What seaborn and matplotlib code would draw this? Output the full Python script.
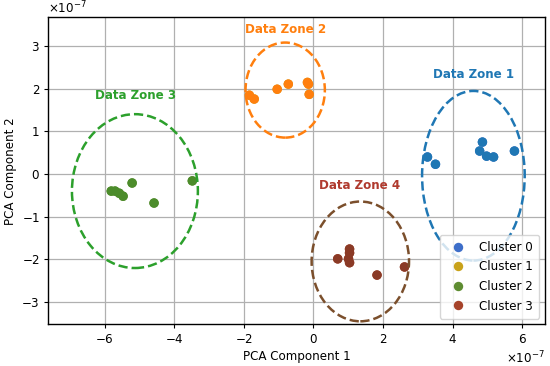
import pandas as pd
import matplotlib.pyplot as plt
import seaborn as sns
from matplotlib.patches import Ellipse

# PCA coordinates (in units of 1e-7)
c0_x = [3.28, 3.51, 4.86, 4.78, 4.98, 5.18, 5.78]
c0_y = [0.40, 0.23, 0.75, 0.54, 0.42, 0.40, 0.54]
c1_x = [-1.84, -1.70, -1.04, -0.72, -0.17, -0.14, -0.12]
c1_y = [1.85, 1.76, 1.99, 2.11, 2.15, 2.11, 1.87]
c2_x = [-5.81, -5.70, -5.58, -5.47, -5.21, -4.58, -3.48]
c2_y = [-0.40, -0.40, -0.45, -0.52, -0.21, -0.68, -0.16]
c3_x = [1.04, 1.04, 1.04, 0.70, 1.01, 1.83, 2.62]
c3_y = [-1.76, -1.85, -2.08, -1.99, -1.99, -2.37, -2.18]

clusters = ["Cluster 0", "Cluster 1", "Cluster 2", "Cluster 3"]

# zone ellipses (units of 1e-7)
zone_names = ["Data Zone 1", "Data Zone 2", "Data Zone 3", "Data Zone 4"]
zone_cx = [4.60, -0.81, -5.13, 1.35]
zone_cy = [-0.04, 1.97, -0.40, -2.05]
zone_w = [2.95, 2.28, 3.62, 2.80]
zone_h = [3.98, 2.23, 3.61, 2.81]
label_x = [4.61, -0.81, -5.12, 1.33]
label_y = [2.34, 3.39, 1.85, -0.27]

legend_colors = ["#3d6ec9", "#c9a21a", "#5e8c31", "#a6432a"]
point_colors = ["#1f77b4", "#ff7f0e", "#4c8c2b", "#8a3a26"]
zone_colors = ["#1f77b4", "#ff7f0e", "#2ca02c", "#7b4f2c"]
label_colors = ["#1f77b4", "#ff7f0e", "#2ca02c", "#b03a2e"]

scale = 1e-7
xs = [c0_x, c1_x, c2_x, c3_x]
ys = [c0_y, c1_y, c2_y, c3_y]
rows = []
for name, xv, yv in zip(clusters, xs, ys):
    for a, b in zip(xv, yv):
        rows.append({"PC1": a * scale, "PC2": b * scale, "Cluster": name})
df = pd.DataFrame(rows)

plt.rcParams.update({
    'font.size': 8.6,
    'axes.labelpad': 3.0,
    'xtick.major.pad': 3.0, 'ytick.major.pad': 3.0,
    'xtick.major.size': 3.0, 'ytick.major.size': 3.0,
    'axes.linewidth': 1.0,
})
fig, ax = plt.subplots(figsize=(5.5, 3.66), dpi=100)
fig.subplots_adjust(left=0.0878, right=0.991, bottom=0.1134, top=0.953)

sns.scatterplot(data=df, x="PC1", y="PC2", hue="Cluster", palette=legend_colors,
                s=46, linewidth=0, ax=ax, zorder=3)
sns.scatterplot(data=df, x="PC1", y="PC2", hue="Cluster", palette=point_colors,
                s=46, linewidth=0, ax=ax, legend=False, zorder=4)

for i in range(4):
    ax.add_patch(Ellipse((zone_cx[i] * scale, zone_cy[i] * scale),
                         zone_w[i] * scale, zone_h[i] * scale,
                         fill=False, color=zone_colors[i], linestyle='--',
                         linewidth=1.8, zorder=5))
    ax.text(label_x[i] * scale, label_y[i] * scale, zone_names[i],
            color=label_colors[i], fontweight='bold', ha='center', va='center')

ax.set_xlim(-7.62 * scale, 6.66 * scale)
ax.set_ylim(-3.53 * scale, 3.68 * scale)
ax.ticklabel_format(style='sci', scilimits=(0, 0), useMathText=True)
ax.grid(True, color='#b0b0b0', linewidth=0.9)
ax.set_axisbelow(True)
ax.set_xlabel("PCA Component 1")
ax.set_ylabel("PCA Component 2")
sns.move_legend(ax, "lower right", title=None, borderpad=0.5, labelspacing=0.55)

plt.savefig("out.png", dpi=100)
